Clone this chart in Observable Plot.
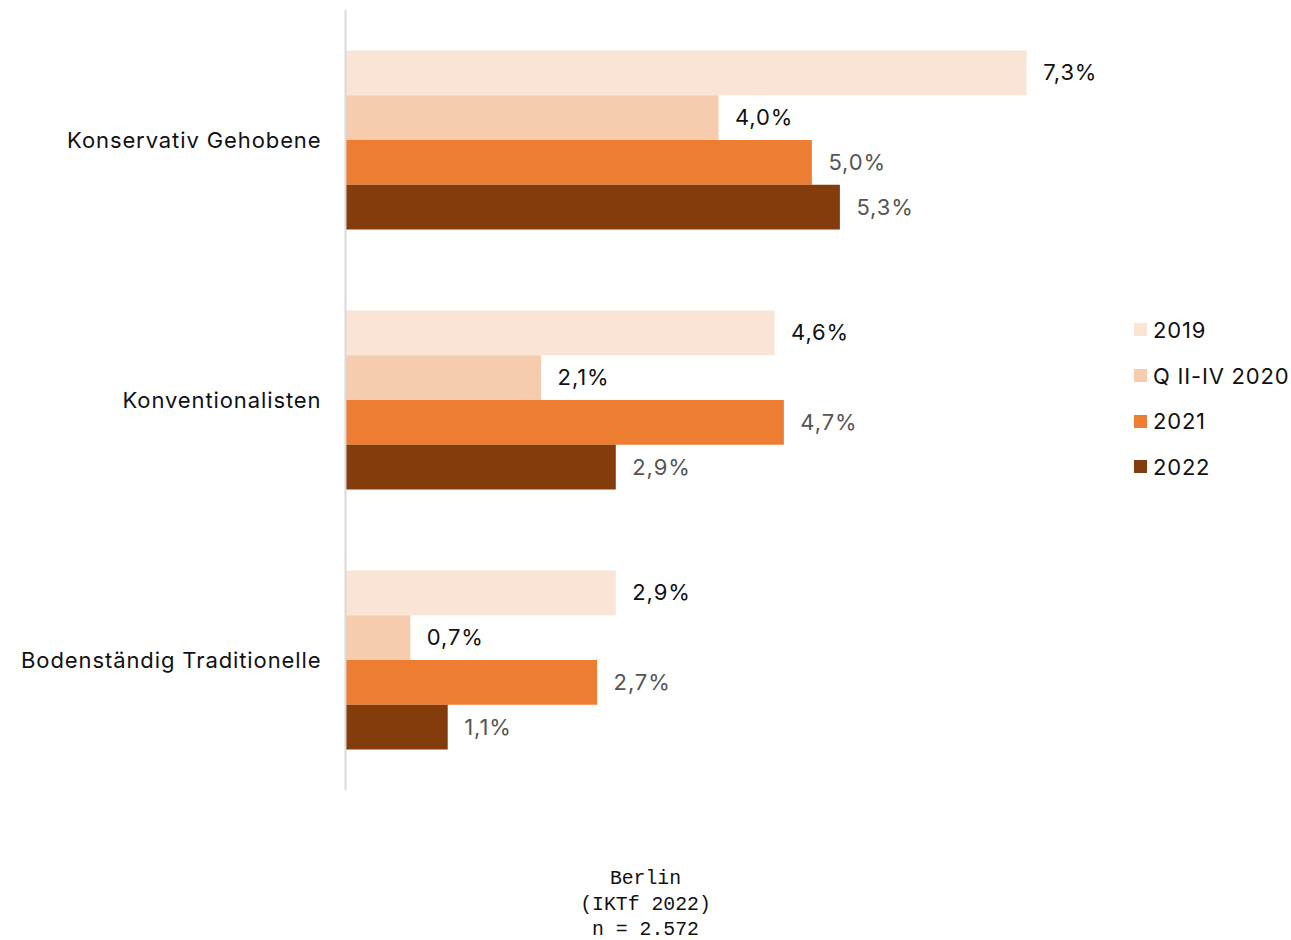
<!DOCTYPE html>
<html>
<head>
<meta charset="utf-8">
<script src="https://cdn.jsdelivr.net/npm/d3@7"></script>
<script src="https://cdn.jsdelivr.net/npm/@observablehq/plot@0.6"></script>
<style>
  html, body { margin: 0; padding: 0; background: #fff; }
  #wrap { position: relative; width: 1291px; height: 940px; }
  #legend { position: absolute; left: 1134px; top: 307px; font-family: Inter, "Noto Sans", sans-serif; font-size: 22px; letter-spacing: 0.8px; color: #111; }
  .lg-row { display: flex; align-items: center; height: 45.7px; }
  .lg-sw { width: 13px; height: 13px; margin-right: 6px; }
  #caption { position: absolute; left: 0; width: 1291px; top: 867px; text-align: center; font-family: "Liberation Mono", "DejaVu Sans Mono", monospace; font-size: 19.8px; line-height: 25.5px; color: #111; white-space: pre; }
  #chart svg text { letter-spacing: 0.9px; }
</style>
</head>
<body>
<div id="wrap">
  <div id="chart"></div>
  <div id="legend"></div>
  <div id="caption"></div>
</div>
<script>
const categories = ["Konservativ Gehobene", "Konventionalisten", "Bodenständig Traditionelle"];
const series = ["2019", "Q II-IV 2020", "2021", "2022"];
const colors = ["#fae4d6", "#f7cbad", "#ed7d31", "#843c0c"];
const labelColors = ["#111111", "#111111", "#555555", "#555555"];
const values2019 = [7.3, 4.6, 2.9];
const valuesQ2020 = [4.0, 2.1, 0.7];
const values2021 = [5.0, 4.7, 2.7];
const values2022 = [5.3, 2.9, 1.1];
const captionLines = ["Berlin", "(IKTf 2022)", "n = 2.572"];

const seriesValues = [values2019, valuesQ2020, values2021, values2022];
const data = [];
categories.forEach((c, i) => {
  series.forEach((s, j) => {
    data.push({category: c, series: s, value: seriesValues[j][i], labelColor: labelColors[j]});
  });
});

const fmt = v => v.toFixed(1).replace(".", ",") + "%";

const chart = Plot.plot({
  width: 1291,
  height: 800,
  marginTop: 10,
  marginBottom: 10,
  marginLeft: 345,
  marginRight: 199,
  style: { fontFamily: "Inter, 'Noto Sans', sans-serif", fontSize: "22px", background: "#fff" },
  x: { domain: [0, 8], axis: null },
  fy: { domain: categories, padding: 0, label: null, axis: "left", tickSize: 0, tickPadding: 24, round: false },
  y: { domain: series, axis: null, paddingInner: 0, paddingOuter: 0.905, round: false },
  color: { domain: series, range: colors },
  marks: [
    Plot.barX(data, { fy: "category", y: "series", x: "value", fill: "series" }),
    Plot.text(data, { fy: "category", y: "series", x: "value", text: d => fmt(d.value), textAnchor: "start", dx: 16, fill: "labelColor", fontSize: 22 }),
    Plot.ruleX([0], { stroke: "#d9d9d9", strokeWidth: 2 })
  ]
});
chart.querySelectorAll("g[aria-label='fy-axis tick label']").forEach(g => {
  g.setAttribute("fill", "#111");
  g.setAttribute("font-size", "22px");
});
document.getElementById("chart").appendChild(chart);

const legend = document.getElementById("legend");
series.forEach((s, j) => {
  const row = document.createElement("div");
  row.className = "lg-row";
  const sw = document.createElement("div");
  sw.className = "lg-sw";
  sw.style.background = colors[j];
  const t = document.createElement("span");
  t.textContent = s;
  row.appendChild(sw);
  row.appendChild(t);
  legend.appendChild(row);
});
document.getElementById("caption").textContent = captionLines.join("\n");
</script>
</body>
</html>
